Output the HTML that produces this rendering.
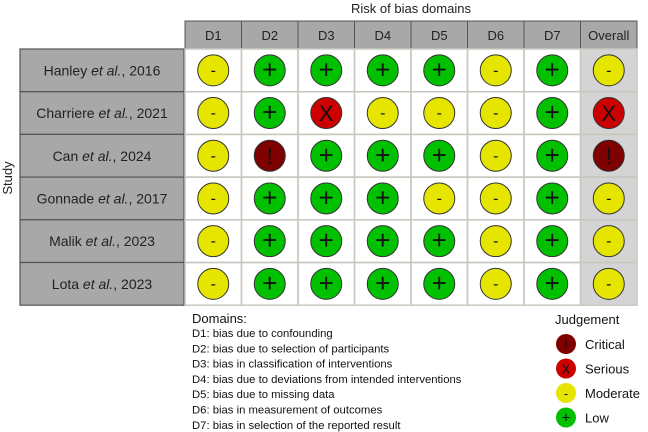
<!DOCTYPE html>
<html><head><meta charset="utf-8"><style>
body{margin:0;background:#fff}
svg{display:block;font-family:"Liberation Sans",Arial,sans-serif}
</style></head><body>
<svg id="chart" width="648" height="432" viewBox="0 0 648 432">
<text x="411" y="13" font-size="13" text-anchor="middle" fill="#222">Risk of bias domains</text>
<text transform="translate(12,178) rotate(-90)" font-size="13" text-anchor="middle" fill="#222">Study</text>
<g id="grid"></g>
<g id="legend">
<text x="192" y="323" font-size="13" fill="#111">Domains:</text>
<g id="domainText" font-size="11.3" fill="#111"></g>
<text x="555" y="324" font-size="13" fill="#111">Judgement</text>
<g id="judgeLegend"></g>
</g>
</svg>
<script>
const studies=["Hanley|2016","Charriere|2021","Can|2024","Gonnade|2017","Malik|2023","Lota|2023"];
const domains=["D1","D2","D3","D4","D5","D6","D7","Overall"];
const judgements=[
["M","L","L","L","L","M","L","M"],
["M","L","S","M","M","M","L","S"],
["M","C","L","L","L","M","L","C"],
["M","L","L","L","M","M","L","M"],
["M","L","L","L","L","M","L","M"],
["M","L","L","L","L","M","L","M"]];
const domainDescs=["D1: bias due to confounding","D2: bias due to selection of participants","D3: bias in classification of interventions","D4: bias due to deviations from intended interventions","D5: bias due to missing data","D6: bias in measurement of outcomes","D7: bias in selection of the reported result"];
const legendKeys=["C","S","M","L"];
const legendLabels=["Critical","Serious","Moderate","Low"];
const style={C:{f:"#7f0000",s:"!"},S:{f:"#cc0000",s:"X"},M:{f:"#e5e500",s:"-"},L:{f:"#00c000",s:"+"}};
const NS="http://www.w3.org/2000/svg";
function mk(t,a,p){const e=document.createElementNS(NS,t);for(const k in a)e.setAttribute(k,a[k]);p.appendChild(e);return e;}
const X0=185,CW=56.5,Y0=49,RH=42.7,HY=21;
const colX=i=>X0+i*CW, rowY=j=>Y0+j*RH;
const g=document.getElementById('grid');
domains.forEach((d,i)=>{
 const r=mk('rect',{x:colX(i),y:HY,width:CW,height:Y0-HY,fill:'#a8a8a8',stroke:'#555','stroke-width':1},g);
 
 
 const t=mk('text',{x:colX(i)+CW/2,y:HY+19,'font-size':13,'text-anchor':'middle',fill:'#222'},g);t.textContent=d;
 
 
});
const ob=mk('rect',{x:colX(7),y:Y0,width:CW,height:RH*studies.length,fill:'#d4d4d4'},g);


studies.forEach((s,j)=>{
 const [name,yr]=s.split('|');
 const y=rowY(j);
 const r=mk('rect',{x:20,y:y,width:164,height:RH,fill:'#a8a8a8',stroke:'#555','stroke-width':1.2},g);
 
 
 const t=mk('text',{x:102,y:y+RH/2+5,'font-size':14,'text-anchor':'middle',fill:'#222'},g);
 
 
 t.innerHTML=name+' <tspan font-style="italic">et al.</tspan>, '+yr;
 domains.forEach((d,i)=>{
  const cell=mk('rect',{x:colX(i),y:y,width:CW,height:RH,fill:'none',stroke:'#c8c8c0','stroke-width':1.5},g);
  
  
  const k=judgements[j][i],st=style[k];
  const cx=colX(i)+CW/2,cy=y+RH/2;
  const c=mk('circle',{cx:cx,cy:cy,r:15.5,fill:st.f,stroke:'#333','stroke-width':1},g);
  
  
  const sy=k==='M'?cy+5:cy+8;
  const tt=mk('text',{x:cx,y:sy,'font-size':k==='M'?16:(k==='L'?26:22),'text-anchor':'middle',fill:'#111'},g);
  tt.textContent=st.s;
  
  
 });
});
const dt=document.getElementById('domainText');
domainDescs.forEach((d,i)=>{
 const t=mk('text',{x:192,y:337+i*15.3},dt);t.textContent=d;
 
 
});
const jl=document.getElementById('judgeLegend');
legendKeys.forEach((k,i)=>{
 const cy=344+i*24.5,st=style[k];
 const c=mk('circle',{cx:566,cy:cy,r:10,fill:st.f},jl);
 
 
 const s=mk('text',{x:566,y:cy+5,'font-size':k==='L'?15:13,'text-anchor':'middle',fill:'#111'},jl);s.textContent=st.s;
 
 
 const t=mk('text',{x:585,y:cy+5,'font-size':13,fill:'#111'},jl);t.textContent=legendLabels[i];
 
 
});
</script>
</body></html>
